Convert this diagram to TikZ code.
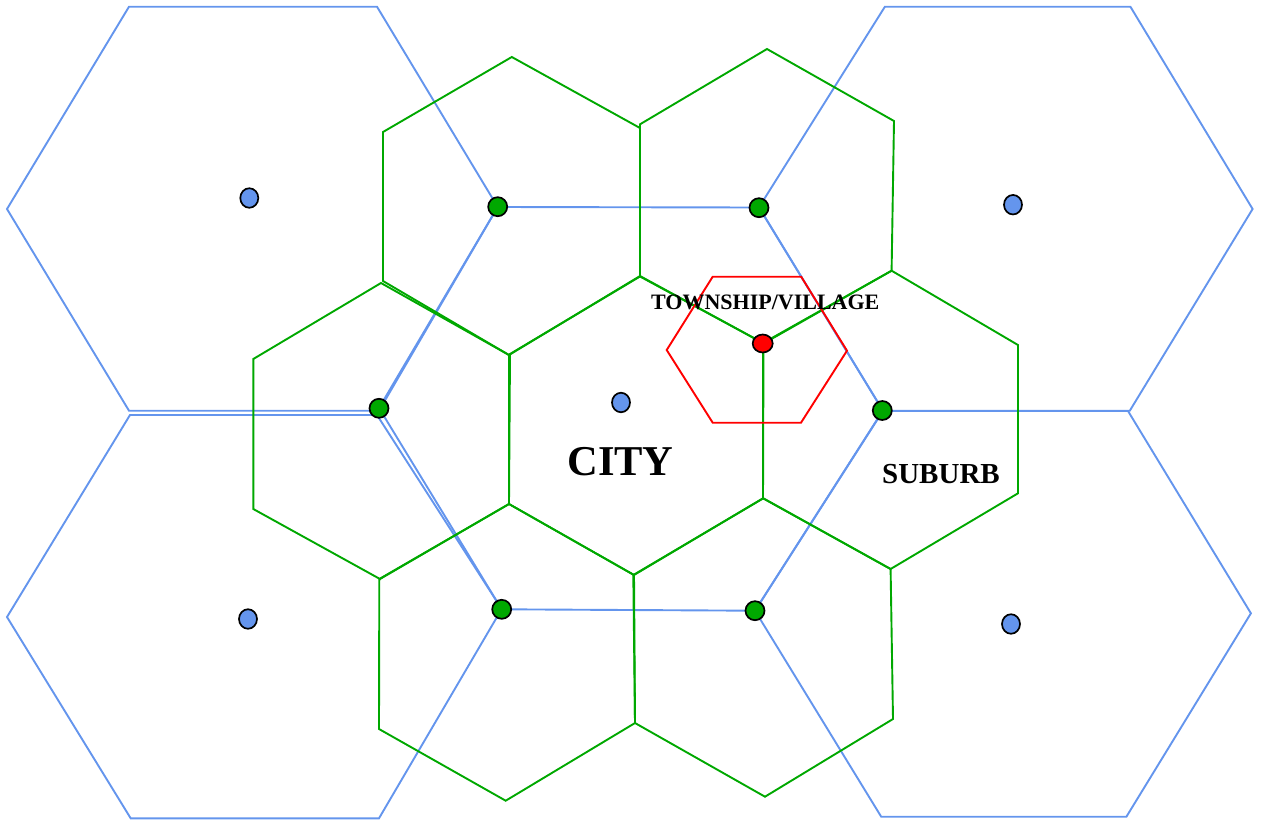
\documentclass[tikz,border=0pt]{standalone}
\usepackage{fontspec}
\setmainfont{Liberation Serif}
\usetikzlibrary{shapes.geometric}
\definecolor{hexblue}{RGB}{100,149,237}
\definecolor{hexgreen}{RGB}{0,168,0}
\definecolor{hexred}{RGB}{255,0,0}
\begin{document}
\begin{tikzpicture}[x=1pt,y=-1pt,
  bluehex/.style={draw=hexblue,line width=1.9pt,line join=miter},
  greenhex/.style={draw=hexgreen,line width=1.9pt,line join=miter},
  redhex/.style={draw=hexred,line width=1.9pt,line join=miter},
  dotbase/.style={ellipse,draw=black,line width=1.7pt,inner sep=0pt},
  bluedot/.style={dotbase,fill=hexblue,minimum width=18pt,minimum height=19.5pt},
  greendot/.style={dotbase,fill=hexgreen,minimum width=19pt,minimum height=19pt},
  reddot/.style={dotbase,fill=hexred,minimum width=20pt,minimum height=18pt},
  lbl/.style={inner sep=0pt,anchor=base,font=\bfseries}]
\useasboundingbox (0,0) rectangle (1262,820);
% ---------- blue hexagons ----------
\draw[bluehex] (129,6.7) -- (377,6.7) -- (497.7,207) -- (379,410.7) -- (129,410.7) -- (7,209) -- cycle;
\draw[bluehex] (884.9,6.7) -- (1130.4,6.7) -- (1252.6,209) -- (1129.8,410.7) -- (882.9,410.7) -- (759,207.3) -- cycle;
\draw[bluehex] (130,415) -- (377,415) -- (501.7,609) -- (379,818.3) -- (130.7,818.3) -- (7,617) -- cycle;
\draw[bluehex] (882.9,411) -- (1128,411) -- (1250.9,613.3) -- (1126.4,816.7) -- (881.2,816.7) -- (755,610.7) -- cycle;
\draw[bluehex] (497.7,207) -- (759,207.5) -- (882.9,410.5) -- (755,610.7) -- (501.7,609.3) -- (379,408) -- cycle;
% ---------- green hexagons ----------
\draw[greenhex] (511.8,57) -- (640,128) -- (640,276) -- (509,355) -- (383,281) -- (383,132) -- cycle;
\draw[greenhex] (767,49) -- (894,121) -- (891.6,270.7) -- (763,343) -- (640,276) -- (640,124.3) -- cycle;
\draw[greenhex] (381,283) -- (509,355) -- (509,504) -- (380,579) -- (253.3,509) -- (253.3,359) -- cycle;
\draw[greenhex] (640,276.5) -- (763,343) -- (763,498.3) -- (634,575) -- (509,504) -- (510,354) -- cycle;
\draw[greenhex] (891.6,270.7) -- (1018,345) -- (1018,493.3) -- (890.6,569) -- (763,498.3) -- (763.5,343.5) -- cycle;
\draw[greenhex] (509,504) -- (634,575) -- (635,723) -- (505.7,800.7) -- (379,729) -- (379.3,579) -- cycle;
\draw[greenhex] (763.3,498.3) -- (890.6,569) -- (893,719) -- (765,796.7) -- (635,723) -- (633.3,575) -- cycle;
% ---------- red hexagon ----------
\draw[redhex] (712.7,276.7) -- (801.2,276.7) -- (847,350.7) -- (801,422.7) -- (712.7,422.7) -- (666.7,350) -- cycle;
% ---------- dots ----------
\node[bluedot] (city) at (621,402.5) {};
\node[bluedot] (b1) at (249.3,198) {};
\node[bluedot] (b2) at (1013,204.7) {};
\node[bluedot] (b3) at (248,619) {};
\node[bluedot] (b4) at (1011,624) {};
\node[greendot] (g1) at (497.7,206.7) {};
\node[greendot] (g2) at (759,207.7) {};
\node[greendot] (g3) at (379,408.3) {};
\node[greendot] (g4) at (882.3,410.5) {};
\node[greendot] (g5) at (501.7,609.3) {};
\node[greendot] (g6) at (755,610.7) {};
\node[reddot] (village) at (762.7,343.5) {};
% ---------- labels ----------
\node[lbl,font=\bfseries\fontsize{22}{25}\selectfont] (tlabel) at (765.3,309.3) {TOWNSHIP/VILLAGE};
\node[lbl,font=\bfseries\fontsize{42.5}{48}\selectfont] (clabel) at (620.5,475) {CITY};
\node[lbl,font=\bfseries\fontsize{29}{33}\selectfont] (slabel) at (941,483.3) {SUBURB};
\end{tikzpicture}
\end{document}
